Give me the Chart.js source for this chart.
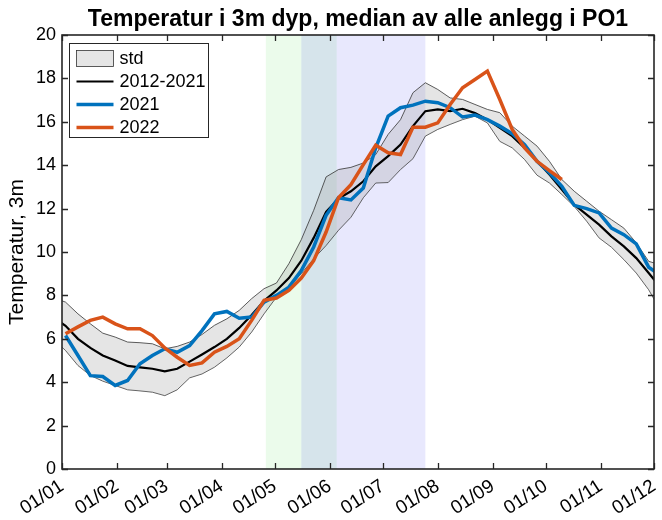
<!DOCTYPE html>
<html>
<head>
<meta charset="utf-8">
<title>Temperatur PO1</title>
<script src="https://cdn.jsdelivr.net/npm/chart.js@4.4.1/dist/chart.umd.min.js"></script>
<style>
    html, body { margin: 0; padding: 0; background: #fff; }
    #wrap { width: 662px; height: 520px; }
</style>
</head>
<body>
<div id="wrap"><canvas id="myChart" width="662" height="520"></canvas></div>
<script>
// dag i året for hver ukeverdi
var weekDay = [-5, 2, 9, 16, 23, 30, 37, 44, 51, 58, 65, 72, 79, 86, 93, 100, 107, 114, 121, 128,
    135, 142, 149, 156, 163, 170, 177, 184, 191, 198, 205, 212, 219, 226, 233, 240, 247, 254, 261, 268,
    275, 282, 289, 296, 303, 310, 317, 324, 331, 338];

// median 2012-2021
var mean = [7.0, 6.6, 6.0, 5.58, 5.23, 5.0, 4.75, 4.68, 4.62, 4.5, 4.62, 4.95, 5.28, 5.62, 6.0, 6.5, 7.1, 7.75, 8.23, 8.8,
    9.6, 10.65, 11.85, 12.46, 12.8, 13.26, 13.95, 14.42, 14.95, 15.8, 16.49, 16.57, 16.49, 16.6, 16.4, 16.1, 15.72, 15.34, 14.8, 14.18,
    13.57, 12.88, 12.18, 11.72, 11.26, 10.72, 10.26, 9.72, 9.03, 8.34];

// std-bånd, øvre og nedre kant
var stdUpper = [7.9, 7.69, 7.15, 6.69, 6.26, 6.08, 5.85, 5.82, 5.77, 5.54, 5.65, 5.85, 6.2, 6.62, 6.92, 7.31, 7.85, 8.31, 8.57, 9.46,
    10.57, 11.92, 13.46, 13.8, 13.9, 14.1, 14.49, 15.42, 16.1, 17.34, 17.8, 17.49, 17.1, 17.03, 16.8, 16.57, 16.42, 15.8, 15.34, 14.88,
    14.18, 13.34, 12.8, 12.34, 11.88, 11.49, 11.1, 10.42, 9.57, 9.4];
var stdLower = [6.0, 5.46, 4.77, 4.31, 4.05, 3.85, 3.65, 3.6, 3.54, 3.38, 3.65, 4.2, 4.38, 4.69, 5.12, 5.62, 6.31, 7.15, 7.92, 8.38,
    9.0, 9.69, 10.3, 11.0, 11.6, 12.5, 13.18, 13.2, 13.8, 14.3, 15.34, 15.65, 15.88, 16.1, 16.26, 15.95, 15.1, 14.8, 14.26, 13.54,
    13.18, 12.65, 12.1, 11.42, 10.65, 10.22, 9.65, 9.03, 8.26, 7.26];

var y2021 = [null, 6.15, 5.23, 4.3, 4.26, 3.85, 4.08, 4.85, 5.23, 5.54, 5.38, 5.69, 6.38, 7.15, 7.26, 6.95, 7.0, 7.69, 8.0, 8.38,
    9.15, 10.23, 11.69, 12.5, 12.4, 12.95, 14.8, 16.26, 16.65, 16.77, 16.95, 16.88, 16.65, 16.22, 16.31, 16.1, 15.8, 15.45, 14.95, 14.18,
    13.65, 13.03, 12.15, 12.0, 11.8, 11.1, 10.8, 10.37, 9.3, 8.9];

var y2022 = [null, 6.23, 6.55, 6.85, 7.0, 6.69, 6.46, 6.46, 6.15, 5.58, 5.15, 4.77, 4.89, 5.38, 5.65, 6.0, 6.85, 7.77, 7.88, 8.23,
    8.8, 9.6, 10.92, 12.5, 13.1, 14.03, 14.92, 14.57, 14.49, 15.75, 15.75, 15.95, 16.8, 17.57, 17.95, 18.34, 17.03, 15.65, 14.8, 14.18,
    13.75, 13.34, null, null, null, null, null, null, null, null];

// månedsstart (dag i året) og etiketter
var monthDays = [0, 31, 59, 90, 120, 151, 181, 212, 243, 273, 304, 334];
var monthLabels = ['01/01', '01/02', '01/03', '01/04', '01/05', '01/06', '01/07', '01/08', '01/09', '01/10', '01/11', '01/12'];
var yTicks = [0, 2, 4, 6, 8, 10, 12, 14, 16, 18, 20];

// perioder markert med farge (dag i året)
var periodGreen = [115, 155];
var periodBlue = [135, 205];

var FONT = '"Liberation Sans", Arial, Helvetica, sans-serif';
var stdFill = 'rgba(150, 150, 150, 0.25)';

function toPoints(vals) {
    var pts = [];
    for (var i = 0; i != weekDay.length; i++)
        pts.push({ x: weekDay[i], y: vals[i] });
    return pts;
}

// fargede perioder bak kurvene
var periodPlugin = {
    id: 'periods',
    beforeDatasetsDraw: function (chart) {
        var ctx = chart.ctx, a = chart.chartArea, xs = chart.scales.x;
        ctx.save();
        ctx.fillStyle = 'rgba(0, 210, 0, 0.08)';
        var x0 = xs.getPixelForValue(periodGreen[0]), x1 = xs.getPixelForValue(periodGreen[1]);
        ctx.fillRect(x0, a.top, x1 - x0, a.bottom - a.top);
        ctx.fillStyle = 'rgba(0, 0, 235, 0.09)';
        x0 = xs.getPixelForValue(periodBlue[0]); x1 = xs.getPixelForValue(periodBlue[1]);
        ctx.fillRect(x0, a.top, x1 - x0, a.bottom - a.top);
        ctx.restore();
    }
};

// ramme rundt plottet med ticks som peker innover
var framePlugin = {
    id: 'frame',
    afterDatasetsDraw: function (chart) {
        var ctx = chart.ctx, a = chart.chartArea;
        var xs = chart.scales.x, ys = chart.scales.y;
        var len = 6;
        ctx.save();
        ctx.strokeStyle = '#262626';
        ctx.lineWidth = 1.3;
        ctx.beginPath();
        xs.ticks.forEach(function (t) {
            var px = Math.round(xs.getPixelForValue(t.value)) + 0.5;
            ctx.moveTo(px, a.bottom); ctx.lineTo(px, a.bottom - len);
            ctx.moveTo(px, a.top); ctx.lineTo(px, a.top + len);
        });
        ys.ticks.forEach(function (t) {
            var py = Math.round(ys.getPixelForValue(t.value)) + 0.5;
            ctx.moveTo(a.left, py); ctx.lineTo(a.left + len, py);
            ctx.moveTo(a.right, py); ctx.lineTo(a.right - len, py);
        });
        ctx.stroke();
        ctx.lineWidth = 1.6;
        ctx.strokeRect(a.left, a.top, a.right - a.left, a.bottom - a.top);
        ctx.restore();
    }
};

// tittel over plottet
var titlePlugin = {
    id: 'plotTitle',
    afterDraw: function (chart) {
        var ctx = chart.ctx, a = chart.chartArea;
        ctx.save();
        ctx.fillStyle = '#000';
        ctx.font = 'bold 23px ' + FONT;
        ctx.textAlign = 'center';
        ctx.textBaseline = 'alphabetic';
        ctx.fillText('Temperatur i 3m dyp, median av alle anlegg i PO1', (a.left + a.right) / 2, a.top - 9);
        ctx.restore();
    }
};

// forklaring oppe til venstre
var legendPlugin = {
    id: 'boxLegend',
    afterDraw: function (chart) {
        var ctx = chart.ctx, a = chart.chartArea;
        var bx = a.left + 7.5, by = a.top + 8.5, bw = 139, bh = 94;
        var rowH = 23, y0 = by + 15;
        var sx0 = bx + 7, sx1 = bx + 44, tx = bx + 50;
        ctx.save();
        ctx.fillStyle = '#fff';
        ctx.fillRect(bx, by, bw, bh);
        ctx.strokeStyle = '#262626';
        ctx.lineWidth = 1;
        ctx.strokeRect(bx, by, bw, bh);

        var items = [
            { label: 'std', patch: true },
            { label: '2012-2021', color: '#000', width: 2 },
            { label: '2021', color: '#0072BD', width: 3.5 },
            { label: '2022', color: '#D95319', width: 3.5 }
        ];
        ctx.font = '18px ' + FONT;
        ctx.textBaseline = 'middle';
        items.forEach(function (it, i) {
            var cy = y0 + i * rowH;
            if (it.patch) {
                ctx.fillStyle = '#fff';
                ctx.fillRect(sx0, cy - 8, sx1 - sx0, 16);
                ctx.fillStyle = stdFill;
                ctx.fillRect(sx0, cy - 8, sx1 - sx0, 16);
                ctx.strokeStyle = '#333';
                ctx.lineWidth = 0.8;
                ctx.strokeRect(sx0, cy - 8, sx1 - sx0, 16);
            } else {
                ctx.strokeStyle = it.color;
                ctx.lineWidth = it.width;
                ctx.beginPath();
                ctx.moveTo(sx0, cy);
                ctx.lineTo(sx1, cy);
                ctx.stroke();
            }
            ctx.fillStyle = '#000';
            ctx.fillText(it.label, tx, cy + 1);
        });
        ctx.restore();
    }
};

var data = {
    datasets: [
        {
            label: '2022',
            data: toPoints(y2022),
            borderColor: '#D95319',
            borderWidth: 3.5,
            pointRadius: 0,
            fill: false,
            order: 0
        },
        {
            label: '2021',
            data: toPoints(y2021),
            borderColor: '#0072BD',
            borderWidth: 3.5,
            pointRadius: 0,
            fill: false,
            order: 1
        },
        {
            label: '2012-2021',
            data: toPoints(mean),
            borderColor: '#000',
            borderWidth: 2.2,
            pointRadius: 0,
            fill: false,
            order: 2
        },
        {
            label: 'std',
            data: toPoints(stdUpper),
            borderColor: '#333',
            borderWidth: 0.8,
            backgroundColor: stdFill,
            pointRadius: 0,
            fill: '+1',
            order: 3
        },
        {
            label: 'std nedre',
            data: toPoints(stdLower),
            borderColor: '#333',
            borderWidth: 0.8,
            pointRadius: 0,
            fill: false,
            order: 4
        }
    ]
};

var config = {
    type: 'line',
    data: data,
    options: {
        responsive: false,
        animation: false,
        devicePixelRatio: 1,
        layout: { padding: { top: 35, right: 8, left: 0, bottom: 0 } },
        elements: { line: { tension: 0 } },
        plugins: {
            legend: { display: false },
            title: { display: false },
            tooltip: { enabled: false }
        },
        scales: {
            x: {
                type: 'linear',
                min: 0,
                max: 334,
                grid: { display: false, drawTicks: false },
                border: { display: false },
                afterBuildTicks: function (scale) {
                    scale.ticks = monthDays.map(function (d) { return { value: d }; });
                },
                afterFit: function (scale) {
                    scale.height = 51;
                    scale.paddingRight = 0;
                },
                ticks: {
                    autoSkip: false,
                    minRotation: 33,
                    maxRotation: 33,
                    padding: 6,
                    color: '#000',
                    font: { family: FONT, size: 19 },
                    callback: function (value, index) { return monthLabels[index]; }
                }
            },
            y: {
                type: 'linear',
                min: 0,
                max: 20,
                grid: { display: false, drawTicks: false },
                border: { display: false },
                afterBuildTicks: function (scale) {
                    scale.ticks = yTicks.map(function (v) { return { value: v }; });
                },
                afterFit: function (scale) { scale.width = 62; },
                title: {
                    display: true,
                    text: 'Temperatur, 3m',
                    color: '#000',
                    font: { family: FONT, size: 21 },
                    padding: { top: 5, bottom: 0 }
                },
                ticks: {
                    padding: 6,
                    color: '#000',
                    font: { family: FONT, size: 18 }
                }
            }
        }
    },
    plugins: [periodPlugin, framePlugin, titlePlugin, legendPlugin]
};

var myChart = new Chart(document.getElementById('myChart'), config);
</script>
</body>
</html>
